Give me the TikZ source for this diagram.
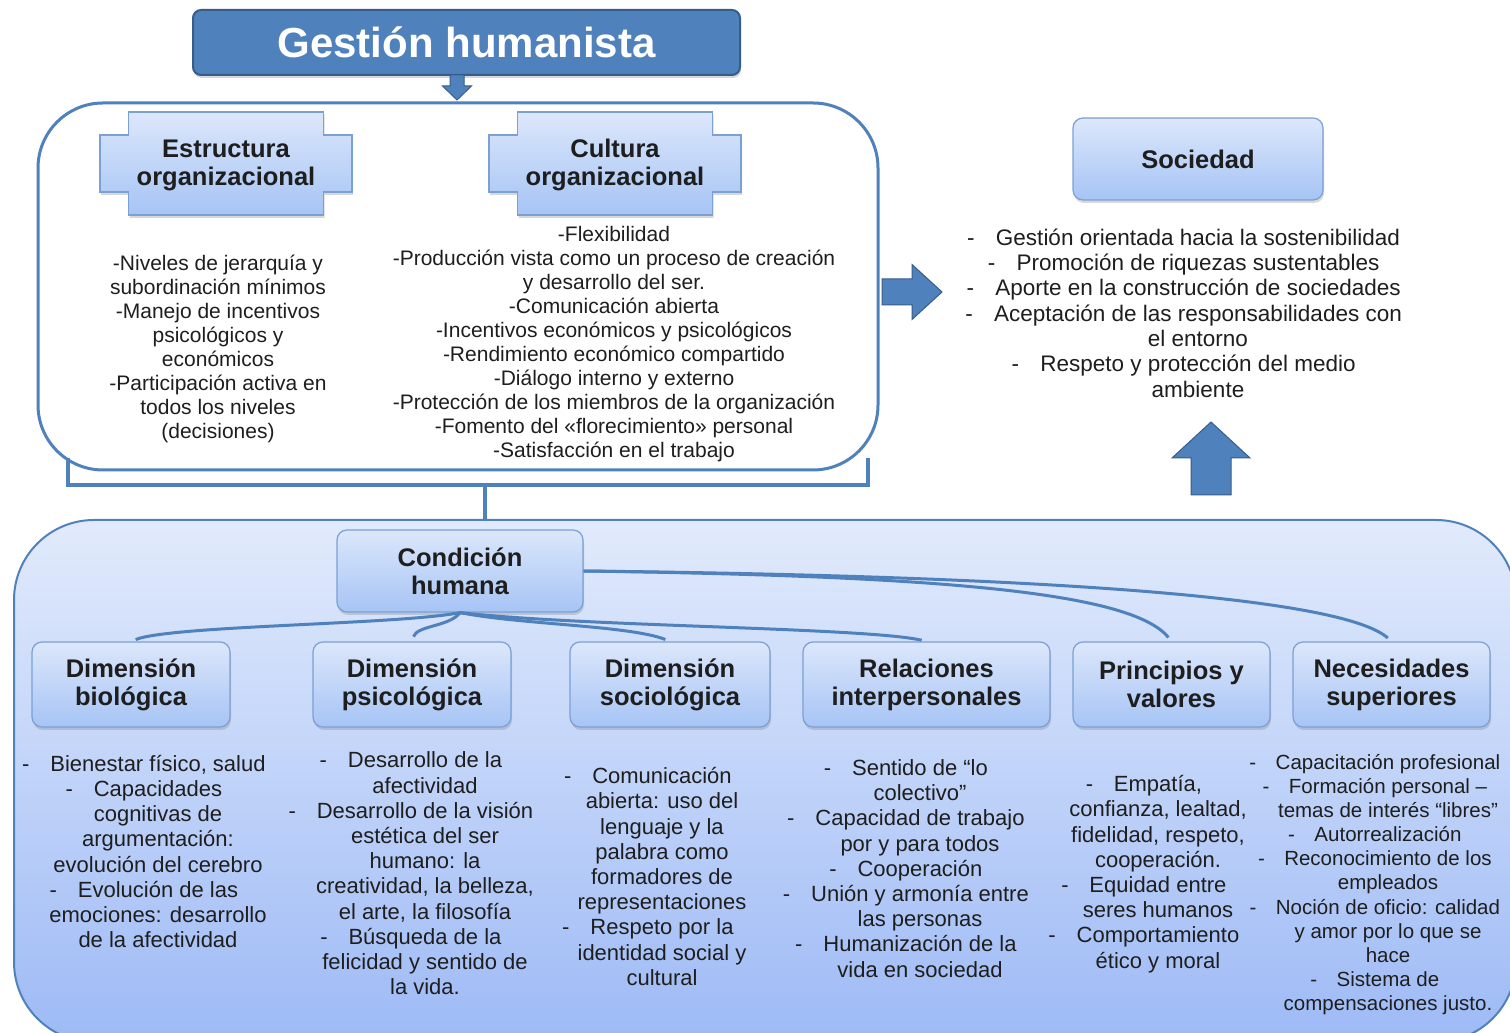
\documentclass[tikz,border=0pt]{standalone}
\usepackage{fontspec}
\setmainfont{Liberation Sans}
\usetikzlibrary{arrows.meta, positioning, calc, shadows}

\definecolor{hblue}{HTML}{4F81BD}
\definecolor{hdark}{HTML}{385D8A}
\definecolor{hline}{HTML}{7BA0D4}
\definecolor{htop}{HTML}{DCE7FB}
\definecolor{hbot}{HTML}{A6C4F5}
\definecolor{htext}{HTML}{1E1E1E}

\newcommand{\bul}{\llap{-\hspace{0.95em}}}

\begin{document}
\begin{tikzpicture}[
    x=1pt, y=1pt,
    font=\fontsize{21}{24}\selectfont,
    text=htext,
    headbox/.style={rectangle, rounded corners=10pt, draw=hline, line width=1.2pt, top color=htop, bottom color=hbot, align=center, font=\fontsize{25.5}{28}\selectfont\bfseries, drop shadow={opacity=0.3, shadow xshift=1pt, shadow yshift=-3pt}},
    plaque/.style={draw=hline, line width=1.2pt, top color=htop, bottom color=hbot, drop shadow={opacity=0.3, shadow xshift=1pt, shadow yshift=-3pt}},
    plaquetext/.style={align=center, font=\fontsize{25.5}{28}\selectfont\bfseries},
    itemtext/.style={align=center, inner sep=0pt, font=\fontsize{22}{25.2}\selectfont},
    link/.style={draw=hblue, line width=3pt, shorten >=5pt},
    bracket/.style={draw=hblue, line width=4pt},
    blockarrow/.style={fill=hblue, draw=hdark, line width=1pt}
]
    \clip (0,0) rectangle (1510,1033);
    \fill[white] (0,0) rectangle (1510,1033);

    % containers
    \node[draw=hblue, line width=2pt, rounded corners=80pt, top color=htop!85!white, bottom color=hbot!95!blue, minimum width=1502, minimum height=522] (botbox) at (765,252) {};
    \node[draw=hblue, line width=3pt, rounded corners=65pt, fill=white, minimum width=840, minimum height=367] (topbox) at (458,746.5) {};

    % title
    \node[rectangle, rounded corners=8pt, fill=hblue, draw=hdark, line width=2pt, minimum width=547, minimum height=65, text=white, font=\fontsize{42}{44}\selectfont\bfseries, drop shadow={opacity=0.3, shadow xshift=1pt, shadow yshift=-3pt}] (title) at (466.5,990.5) {Gestión humanista};
    \draw[blockarrow, shift={(457,958)}] (-7,0) -- (-7,-11) -- (-14.5,-11) -- (0,-25) -- (14.5,-11) -- (7,-11) -- (7,0) -- cycle;

    % organizacion
    \foreach \cx in {226,615}
        \draw[plaque, shift={(\cx,869.5)}] (-97.5,51.5) -- (97.5,51.5) -- (97.5,28.5) -- (126,28.5) -- (126,-28.5) -- (97.5,-28.5) -- (97.5,-51.5) -- (-97.5,-51.5) -- (-97.5,-28.5) -- (-126,-28.5) -- (-126,28.5) -- (-97.5,28.5) -- cycle;
    \node[plaquetext] (estr) at (226,868) {Estructura\\organizacional};
    \node[plaquetext] (cult) at (615,868) {Cultura\\organizacional};

    \node[align=center, inner sep=0pt] (estrtxt) at (218,684.5) {-Niveles de jerarquía y\\subordinación mínimos\\-Manejo de incentivos\\psicológicos y\\económicos\\-Participación activa en\\todos los niveles\\(decisiones)};
    \node[align=center, inner sep=0pt] (culttxt) at (614,689) {-Flexibilidad\\-Producción vista como un proceso de creación\\y desarrollo del ser.\\-Comunicación abierta\\-Incentivos económicos y psicológicos\\-Rendimiento económico compartido\\-Diálogo interno y externo\\-Protección de los miembros de la organización\\-Fomento del «florecimiento» personal\\-Satisfacción en el trabajo};

    % sociedad
    \node[headbox, minimum width=250, minimum height=82] (soc) at (1198,874) {Sociedad};
    \node[itemtext, font=\fontsize{22.5}{25.3}\selectfont] (soctxt) at (1198,720) {\bul Gestión orientada hacia la sostenibilidad\\\bul Promoción de riquezas sustentables\\\bul Aporte en la construcción de sociedades\\\bul Aceptación de las responsabilidades con\\el entorno\\\bul Respeto y protección del medio\\ambiente};

    \draw[blockarrow, shift={(882,741)}] (0,13) -- (30,13) -- (30,27.5) -- (60,0) -- (30,-27.5) -- (30,-13) -- (0,-13) -- cycle;
    \draw[blockarrow, shift={(1211,538)}] (-20,0) -- (-20,37) -- (-39,37) -- (0,73) -- (39,37) -- (20,37) -- (20,0) -- cycle;

    % bracket
    \draw[bracket] (68,575) |- (868,548) -- (868,575);
    \coordinate (brk) at (485,548);
    \draw[bracket] (brk) -- (brk |- botbox.north);

    % condicion humana
    \node[headbox, minimum width=246, minimum height=82] (cond) at (460,462) {Condición\\humana};
    \node[headbox, minimum width=198, minimum height=85] (bio) at (131,348.5) {Dimensión\\biológica};
    \node[headbox, minimum width=198, minimum height=85] (psi) at (412,348.5) {Dimensión\\psicológica};
    \node[headbox, minimum width=200, minimum height=85] (soci) at (670,348.5) {Dimensión\\sociológica};
    \node[headbox, minimum width=247, minimum height=85] (rel) at (926.5,348.5) {Relaciones\\interpersonales};
    \node[headbox, minimum width=197, minimum height=85] (pri) at (1171.5,348.5) {Principios y\\valores};
    \node[headbox, minimum width=197, minimum height=85] (nec) at (1391.5,348.5) {Necesidades\\superiores};

    \draw[link] (cond.south) .. controls +(-60,-12) and +(40,16) .. (bio.north);
    \draw[link] (cond.south) .. controls +(-10,-14) and +(5,16) .. (psi.north);
    \draw[link] (cond.south) .. controls +(60,-12) and +(-40,16) .. (soci.north);
    \draw[link] (cond.south) .. controls +(120,-14) and +(-60,14) .. (rel.north);
    \draw[link] (cond.east) .. controls +(350,-5) and +(-40,50) .. (pri.north);
    \draw[link] (cond.east) .. controls +(450,-5) and +(-50,45) .. (nec.north);

    \node[itemtext] (biotxt) at (158,181.5) {\bul Bienestar físico, salud\\\bul Capacidades\\cognitivas de\\argumentación:\\evolución del cerebro\\\bul Evolución de las\\emociones: desarrollo\\de la afectividad};
    \node[itemtext] (psitxt) at (425,159.5) {\bul Desarrollo de la\\afectividad\\\bul Desarrollo de la visión\\estética del ser\\humano: la\\creatividad, la belleza,\\el arte, la filosofía\\\bul Búsqueda de la\\felicidad y sentido de\\la vida.};
    \node[itemtext] (socitxt) at (662,156.5) {\bul Comunicación\\abierta: uso del\\lenguaje y la\\palabra como\\formadores de\\representaciones\\\bul Respeto por la\\identidad social y\\cultural};
    \node[itemtext] (reltxt) at (920,164.5) {\bul Sentido de “lo\\colectivo”\\\bul Capacidad de trabajo\\por y para todos\\\bul Cooperación\\\bul Unión y armonía entre\\las personas\\\bul Humanización de la\\vida en sociedad};
    \node[itemtext] (pritxt) at (1158,159) {\bul Empatía,\\confianza, lealtad,\\fidelidad, respeto,\\cooperación.\\\bul Equidad entre\\seres humanos\\\bul Comportamiento\\ético y moral};
    \node[itemtext, font=\fontsize{20.5}{24.1}\selectfont] (nectxt) at (1388,148.5) {\bul Capacitación profesional\\\bul Formación personal –\\temas de interés “libres”\\\bul Autorrealización\\\bul Reconocimiento de los\\empleados\\\bul Noción de oficio: calidad\\y amor por lo que se\\hace\\\bul Sistema de\\compensaciones justo.};
\end{tikzpicture}
\end{document}
